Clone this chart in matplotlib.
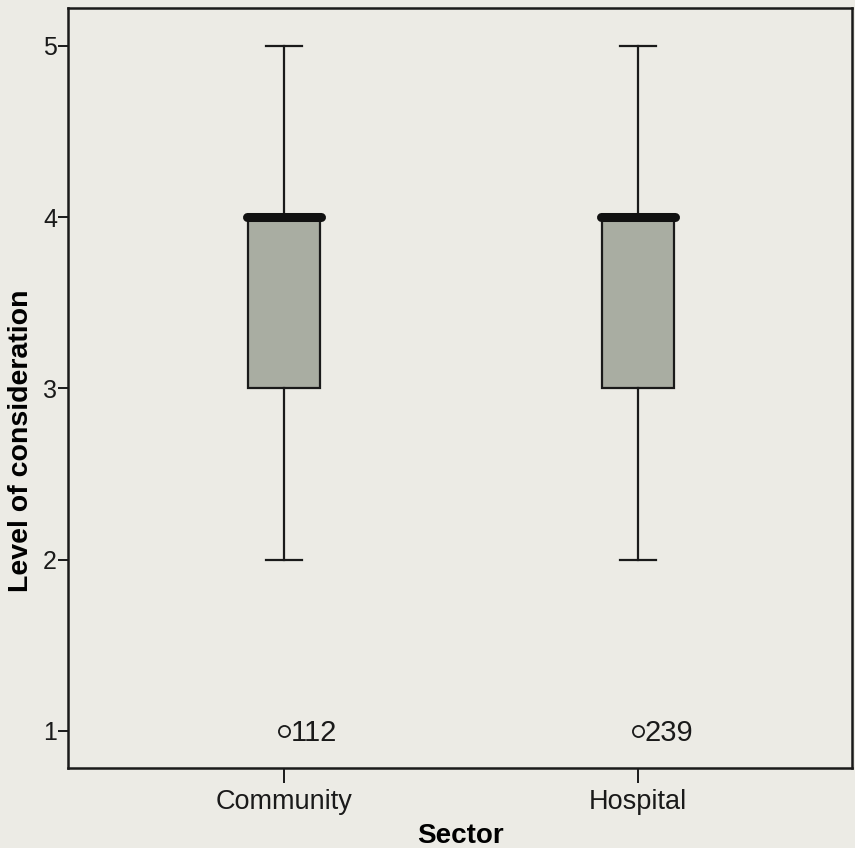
import matplotlib

matplotlib.use("Agg")
import matplotlib.pyplot as plt

# data
sectors = ["Community", "Hospital"]
q1 = [3, 3]
median = [4, 4]
q3 = [4, 4]
whisker_low = [2, 2]
whisker_high = [5, 5]
outlier_value = [1, 1]
outlier_case = ["112", "239"]
y_ticks = [1, 2, 3, 4, 5]

paper = "#ecebe5"
box_fill = "#a9ada2"
ink = "#1a1a1a"

plt.rcParams["font.family"] = ["Liberation Sans", "DejaVu Sans"]

fig = plt.figure(figsize=(8.55, 8.48), dpi=100, facecolor=paper)
ax = fig.add_axes([68 / 855, 80 / 848, 784 / 855, 760 / 848])
ax.set_facecolor(paper)

stats = []
for i, name in enumerate(sectors):
    stats.append(
        {
            "label": name,
            "q1": q1[i],
            "med": median[i],
            "q3": q3[i],
            "whislo": whisker_low[i],
            "whishi": whisker_high[i],
            "fliers": [],
        }
    )

positions = list(range(1, len(sectors) + 1))
ax.bxp(
    stats,
    positions=positions,
    widths=0.203,
    patch_artist=True,
    showfliers=False,
    boxprops=dict(facecolor=box_fill, edgecolor=ink, linewidth=1.6),
    whiskerprops=dict(color=ink, linewidth=1.6),
    capprops=dict(color=ink, linewidth=1.6),
    capwidths=0.1,
    medianprops=dict(color="#111111", linewidth=0),
)

# thick median bar, a little wider than the box
for pos, med in zip(positions, median):
    ax.plot([pos - 0.105, pos + 0.105], [med, med], color="#111111",
            linewidth=6.5, solid_capstyle="round", zorder=4)

for pos, val, case in zip(positions, outlier_value, outlier_case):
    ax.plot(pos, val, marker="o", markersize=8, markerfacecolor="none",
            markeredgecolor=ink, markeredgewidth=1.3, linestyle="none")
    ax.text(pos + 0.02, val - 0.01, case, fontsize=21, va="center", ha="left", color=ink)

ax.set_xlim(0.39, 2.605)
ax.set_ylim(0.784, 5.22)
ax.set_yticks(y_ticks)
ax.set_yticklabels([str(v) for v in y_ticks], fontsize=18)
ax.set_xticks(positions)
ax.set_xticklabels(sectors, fontsize=19.5)
ax.tick_params(axis="y", length=7, width=1.4, pad=1, colors=ink)
ax.tick_params(axis="x", length=11, width=1.4, pad=4, colors=ink)

for spine in ax.spines.values():
    spine.set_linewidth(1.8)
    spine.set_color(ink)

ax.set_xlabel("Sector", fontsize=20, fontweight="bold", labelpad=6)
ax.set_ylabel("Level of consideration", fontsize=20.5, fontweight="bold")
ax.yaxis.set_label_coords(-0.043, 0.431)

fig.savefig("out.png", dpi=100, facecolor=fig.get_facecolor())
